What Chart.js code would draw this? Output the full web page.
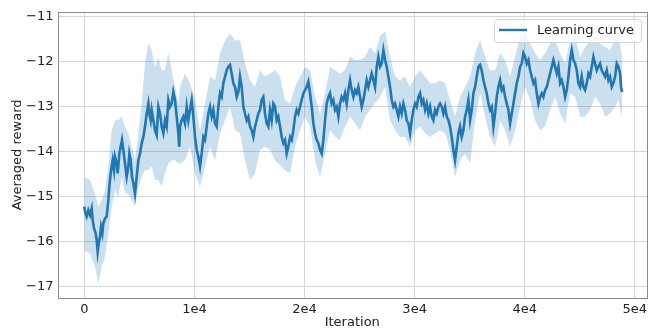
<!DOCTYPE html>
<html><head><meta charset="utf-8">
<script src="https://cdn.jsdelivr.net/npm/chart.js@4/dist/chart.umd.min.js"></script>
<style>html,body{margin:0;padding:0;background:#fff}#wrap{width:652px;height:328px}</style>
</head><body><div id="wrap"><canvas id="c" width="652" height="328"></canvas></div>
<script>
// Mean learning curve: [iteration, averaged reward]
const meanCurve = [[0,-15.22],[64,-15.33],[215,-15.44],[366,-15.30],[518,-15.41],[669,-15.26],[760,-15.52],[881,-15.70],[1033,-15.81],[1123,-15.96],[1214,-16.22],[1305,-16.04],[1426,-15.89],[1517,-15.67],[1638,-15.81],[1729,-15.59],[1880,-15.48],[2032,-15.44],[2183,-15.07],[2274,-14.78],[2395,-14.48],[2486,-14.33],[2577,-14.19],[2698,-14.41],[2789,-14.11],[2940,-14.26],[3031,-14.48],[3183,-14.04],[3304,-13.89],[3425,-13.74],[3546,-13.96],[3697,-14.26],[3849,-14.56],[4000,-14.33],[4091,-14.04],[4212,-14.19],[4333,-14.56],[4454,-14.70],[4606,-14.93],[4757,-14.56],[4909,-14.19],[5060,-14.04],[5211,-13.81],[5363,-13.67],[5514,-13.44],[5665,-13.15],[5817,-12.93],[5908,-13.15],[6029,-13.30],[6120,-13.07],[6271,-13.30],[6423,-13.52],[6574,-13.63],[6726,-13.00],[6877,-13.15],[7028,-13.44],[7180,-13.59],[7331,-13.30],[7482,-13.44],[7634,-12.85],[7785,-13.00],[7936,-12.93],[8088,-12.67],[8239,-12.85],[8390,-13.22],[8542,-13.59],[8620,-13.89],
[8692,-13.44],[8843,-13.30],[8995,-13.22],[9146,-13.37],[9298,-13.00],[9449,-13.30],[9600,-13.07],[9752,-12.85],[9903,-13.22],[10055,-13.67],[10206,-13.96],[10357,-14.11],[10509,-14.33],[10660,-14.04],[10812,-13.67],[10963,-13.74],[11114,-13.44],[11266,-13.15],[11417,-13.00],[11569,-13.22],[11720,-13.07],[11871,-13.37],[12023,-13.44],[12174,-13.00],[12326,-12.70],[12477,-12.78],[12628,-12.48],[12780,-12.33],[12931,-12.19],[13083,-12.11],[13234,-12.07],[13385,-12.26],[13537,-12.48],[13688,-12.56],[13840,-12.78],[13991,-12.67],[14142,-12.33],[14294,-12.56],[14445,-13.00],[14596,-13.15],[14748,-13.30],[14899,-13.22],[15051,-13.44],[15202,-13.52],[15353,-13.67],[15505,-13.44],[15656,-13.30],[15808,-13.15],[15959,-13.07],[16110,-12.85],[16262,-12.78],[16413,-13.15],[16565,-13.37],[16716,-13.44],[16867,-13.07],[17019,-13.30],[17170,-12.93],[17322,-13.00],[17473,-13.30],[17624,-13.22],[17776,-13.44],
[17927,-13.67],[18079,-13.81],[18230,-13.74],[18382,-14.04],[18533,-13.89],[18684,-13.67],[18836,-13.74],[18987,-13.52],[19139,-13.22],[19290,-13.07],[19441,-13.15],[19593,-13.00],[19744,-12.85],[19896,-12.70],[20047,-12.63],[20198,-12.56],[20350,-12.44],[20501,-12.70],[20653,-13.00],[20804,-13.37],[20955,-13.59],[21107,-13.74],[21258,-13.81],[21410,-13.96],[21561,-14.04],[21712,-13.74],[21864,-13.30],[22015,-12.93],[22167,-12.78],[22318,-12.70],[22469,-12.93],[22621,-12.85],[22772,-13.07],[22924,-13.00],[23075,-13.22],[23226,-12.93],[23378,-12.78],[23529,-12.85],[23681,-12.70],[23832,-12.93],[23983,-12.63],[24135,-12.41],[24286,-12.63],[24438,-12.78],[24589,-12.63],[24740,-12.70],[24892,-12.56],[25043,-12.78],[25195,-13.00],[25346,-12.85],[25497,-12.63],[25649,-12.41],[25800,-12.56],[25952,-12.41],[26103,-12.26],[26254,-12.41],[26406,-12.56],[26557,-12.11],[26709,-11.89],[26860,-12.11],
[27011,-12.04],[27163,-11.74],[27314,-11.96],[27466,-12.11],[27617,-12.33],[27768,-12.56],[27920,-12.85],[28071,-13.00],[28223,-12.93],[28374,-13.07],[28525,-13.22],[28677,-13.00],[28828,-13.15],[28980,-12.93],[29131,-13.07],[29282,-13.30],[29434,-13.37],[29585,-13.59],[29737,-13.30],[29888,-13.07],[30039,-12.93],[30191,-13.00],[30342,-12.78],[30494,-12.70],[30645,-12.93],[30796,-12.85],[30948,-13.07],[31099,-12.93],[31251,-13.15],[31402,-13.00],[31553,-13.22],[31705,-13.30],[31856,-13.07],[32008,-13.15],[32159,-13.00],[32310,-12.93],[32462,-13.00],[32613,-13.15],[32765,-13.00],[32916,-13.22],[33067,-13.30],[33219,-13.44],[33370,-13.67],[33522,-13.96],[33673,-14.19],[33824,-13.89],[33976,-13.59],[34127,-13.44],[34279,-13.67],[34430,-13.52],[34581,-13.22],[34733,-13.07],[34884,-12.85],[35036,-13.30],[35187,-13.07],[35338,-12.70],[35490,-12.56],[35641,-12.33],[35793,-12.11],[35944,-12.07],
[36095,-12.19],[36247,-12.41],[36398,-12.56],[36550,-12.70],[36701,-12.93],[36852,-13.07],[37004,-13.00],[37155,-13.44],[37307,-13.15],[37458,-12.78],[37609,-12.56],[37761,-12.41],[37912,-12.63],[38064,-12.56],[38215,-12.78],[38366,-12.93],[38518,-13.07],[38669,-13.37],[38821,-13.15],[38972,-12.93],[39123,-12.70],[39275,-12.48],[39426,-12.33],[39578,-12.11],[39729,-12.04],[39880,-11.81],[40032,-11.89],[40183,-12.04],[40335,-11.96],[40486,-12.19],[40637,-12.33],[40789,-12.48],[40940,-12.41],[41092,-12.70],[41243,-12.93],[41394,-12.78],[41546,-12.70],[41697,-12.78],[41849,-12.63],[42000,-12.56],[42151,-12.41],[42303,-12.26],[42454,-12.11],[42606,-11.96],[42757,-12.11],[42908,-12.26],[43060,-12.11],[43211,-12.48],[43363,-12.41],[43514,-12.56],[43665,-12.78],[43817,-12.63],[43968,-12.33],[44120,-11.96],[44271,-11.74],[44422,-11.96],[44574,-12.04],[44725,-12.19],[44877,-12.48],[45028,-12.56],
[45176,-12.33],[45328,-12.56],[45479,-12.63],[45630,-12.48],[45782,-12.26],[45933,-12.33],[46085,-12.11],[46236,-11.89],[46387,-12.04],[46539,-12.19],[46690,-12.11],[46842,-12.04],[46993,-12.19],[47144,-12.26],[47296,-12.33],[47447,-12.19],[47599,-12.41],[47750,-12.33],[47901,-12.56],[48053,-12.48],[48204,-12.33],[48356,-12.04],[48507,-12.11],[48658,-12.26],[48749,-12.56],[48840,-12.67]];

// Shaded spread: [iteration, upper, lower]
const bandCurve = [[0,-14.56,-16.19],[518,-14.63,-16.26],[972,-14.93,-16.56],[1275,-15.22,-16.93],[1578,-15.07,-16.56],[1880,-14.85,-16.33],[2183,-14.33,-15.81],[2486,-13.52,-15.22],[2789,-13.30,-14.85],[3092,-13.30,-15.00],[3395,-13.22,-14.56],[3697,-13.44,-14.93],[4000,-13.59,-14.93],[4303,-13.89,-15.07],[4606,-14.19,-15.22],[4909,-13.59,-14.78],[5211,-12.93,-14.56],[5514,-12.04,-14.41],[5817,-11.59,-14.41],[6120,-11.74,-14.33],[6423,-12.11,-14.63],[6726,-11.89,-14.63],[7028,-12.19,-14.78],[7331,-12.19,-14.48],[7634,-11.81,-14.26],[7936,-12.19,-14.19],[8239,-12.56,-14.19],[8542,-12.93,-14.26],
[8692,-12.56,-14.26],[9146,-12.26,-14.19],[9600,-12.48,-13.89],[10055,-12.85,-14.48],[10509,-13.52,-14.78],[10963,-12.93,-14.33],[11417,-12.33,-13.89],[11871,-12.41,-14.19],[12326,-11.81,-13.59],[12780,-11.52,-13.30],[13234,-11.37,-13.00],[13688,-11.52,-13.52],[14142,-11.52,-13.59],[14596,-12.04,-14.19],[15051,-12.41,-14.63],[15505,-12.56,-14.48],[15959,-12.19,-13.96],[16413,-12.33,-13.89],[16867,-12.26,-13.96],[17322,-12.19,-14.19],[17776,-12.33,-14.30],
[18230,-12.85,-14.41],[18684,-12.93,-14.48],[19139,-12.56,-13.89],[19593,-12.33,-13.52],[20047,-12.11,-13.22],[20501,-12.19,-13.44],[20955,-12.78,-14.19],[21410,-13.15,-14.56],[21864,-12.70,-14.04],[22318,-12.11,-13.52],[22772,-12.19,-13.67],[23226,-12.26,-13.74],[23681,-12.19,-13.44],[24135,-11.89,-13.22],[24589,-11.96,-13.37],[25043,-11.96,-13.52],[25497,-11.89,-13.22],[25952,-11.67,-13.07],[26406,-11.81,-12.93],[26860,-11.42,-12.78],
[27314,-11.33,-12.56],[27768,-11.89,-13.30],[28223,-12.33,-13.52],[28677,-12.41,-13.67],[29131,-12.33,-13.67],[29585,-12.56,-13.89],[30039,-12.33,-13.52],[30494,-12.19,-13.44],[30948,-12.33,-13.59],[31402,-12.48,-13.67],[31856,-12.48,-13.59],[32310,-12.41,-13.52],[32765,-12.48,-13.59],[33219,-12.85,-13.96],[33673,-13.22,-14.56],[34127,-12.78,-14.19],[34581,-12.56,-14.04],[35036,-12.33,-14.26],[35490,-11.81,-13.30],[35944,-11.52,-12.70],
[36398,-11.89,-13.22],[36852,-12.19,-13.67],[37307,-12.19,-13.89],[37761,-11.81,-13.30],[38215,-11.96,-13.52],[38669,-12.33,-13.89],[39123,-11.89,-13.52],[39578,-11.44,-13.00],[40032,-11.37,-12.56],[40486,-11.59,-12.85],[40940,-11.81,-13.30],[41394,-11.96,-13.52],[41849,-11.81,-13.44],[42303,-11.59,-13.07],[42757,-11.52,-12.78],[43211,-11.81,-13.15],[43665,-12.04,-13.37],[44120,-11.52,-12.70],[44574,-11.44,-12.78],[45028,-11.89,-13.22],
[45479,-11.67,-13.22],[45933,-11.52,-13.07],[46387,-11.44,-12.78],[46842,-11.59,-12.93],[47296,-11.67,-13.22],[47750,-11.74,-13.15],[48204,-11.52,-13.00],[48507,-11.44,-12.85],[48840,-11.89,-13.22]];

const xTicks = [0, 10000, 20000, 30000, 40000, 50000];
const xTickLabels = ['0', '1e4', '2e4', '3e4', '4e4', '5e4'];
const yTicks = [-17, -16, -15, -14, -13, -12, -11];
const yTickLabels = ['\u221217', '\u221216', '\u221215', '\u221214', '\u221213', '\u221212', '\u221211'];
const xRange = [-2434, 51104];
const yRange = [-17.25, -10.89];
const seriesLabel = 'Learning curve';
const xTitle = 'Iteration';
const yTitle = 'Averaged reward';

const FONT = "'DejaVu Sans', sans-serif";
const BLUE = '#1f77b4';

const decor = {
  id: 'decor',
  afterDraw(chart) {
    const {ctx, chartArea: a} = chart;
    ctx.save();
    ctx.strokeStyle = '#8c8c8c';
    ctx.lineWidth = 1;
    const l = Math.round(a.left) + 0.5, t = Math.round(a.top) + 0.5;
    const r = Math.round(a.right) + 0.5, b = Math.round(a.bottom) + 0.5;
    ctx.strokeRect(l, t, r - l, b - t);
    // legend
    const bx = 494.5, by = 19.5, bw = 147, bh = 23, rad = 3;
    ctx.beginPath();
    ctx.moveTo(bx + rad, by);
    ctx.arcTo(bx + bw, by, bx + bw, by + bh, rad);
    ctx.arcTo(bx + bw, by + bh, bx, by + bh, rad);
    ctx.arcTo(bx, by + bh, bx, by, rad);
    ctx.arcTo(bx, by, bx + bw, by, rad);
    ctx.closePath();
    ctx.fillStyle = 'rgba(255,255,255,0.8)';
    ctx.fill();
    ctx.strokeStyle = '#d4d4d4';
    ctx.stroke();
    ctx.strokeStyle = BLUE;
    ctx.lineWidth = 2.4;
    ctx.beginPath();
    ctx.moveTo(499, 30);
    ctx.lineTo(527, 30);
    ctx.stroke();
    ctx.fillStyle = '#222';
    ctx.font = "13px " + FONT;
    ctx.textBaseline = 'middle';
    ctx.textAlign = 'left';
    ctx.fillText(seriesLabel, 537, 30.5);
    ctx.restore();
  }
};

new Chart(document.getElementById('c'), {
  type: 'line',
  data: {
    datasets: [
      {
        label: seriesLabel,
        data: meanCurve.map(p => ({x: p[0], y: p[1]})),
        borderColor: BLUE,
        borderWidth: 2.6,
        pointRadius: 0,
        tension: 0,
        fill: false
      },
      {
        label: 'upper',
        data: bandCurve.map(p => ({x: p[0], y: p[1]})),
        borderWidth: 0,
        borderColor: 'rgba(0,0,0,0)',
        backgroundColor: 'rgba(31,119,180,0.23)',
        pointRadius: 0,
        tension: 0,
        fill: '+1'
      },
      {
        label: 'lower',
        data: bandCurve.map(p => ({x: p[0], y: p[2]})),
        borderWidth: 0,
        borderColor: 'rgba(0,0,0,0)',
        pointRadius: 0,
        tension: 0,
        fill: false
      }
    ]
  },
  options: {
    responsive: false,
    animation: false,
    devicePixelRatio: 1,
    layout: {padding: {left: 0, top: 11, right: 5, bottom: 0}},
    plugins: {legend: {display: false}, tooltip: {enabled: false}},
    scales: {
      x: {
        type: 'linear',
        min: xRange[0], max: xRange[1],
        afterFit(s) { s.height = 30; },
        afterBuildTicks(s) { s.ticks = xTicks.map(v => ({value: v})); },
        grid: {color: '#d6d6d6', lineWidth: 1, drawTicks: false},
        border: {display: false},
        ticks: {
          padding: 4, autoSkip: false, maxRotation: 0,
          color: '#222', font: {family: FONT, size: 13},
          callback: (v) => xTickLabels[xTicks.indexOf(v)]
        },
        title: {display: true, text: xTitle, color: '#222', font: {family: FONT, size: 13, lineHeight: 0.8}, padding: 0}
      },
      y: {
        type: 'linear',
        min: yRange[0], max: yRange[1],
        afterFit(s) { s.width = 57.5; },
        afterBuildTicks(s) { s.ticks = yTicks.map(v => ({value: v})); },
        grid: {color: '#d6d6d6', lineWidth: 1, drawTicks: false},
        border: {display: false},
        ticks: {
          padding: 4, autoSkip: false,
          color: '#222', font: {family: FONT, size: 13},
          callback: (v) => yTickLabels[yTicks.indexOf(v)]
        },
        title: {display: true, text: yTitle, color: '#222', font: {family: FONT, size: 13}, padding: {top: 10, bottom: 0}}
      }
    }
  },
  plugins: [decor]
});
</script>
</body></html>
